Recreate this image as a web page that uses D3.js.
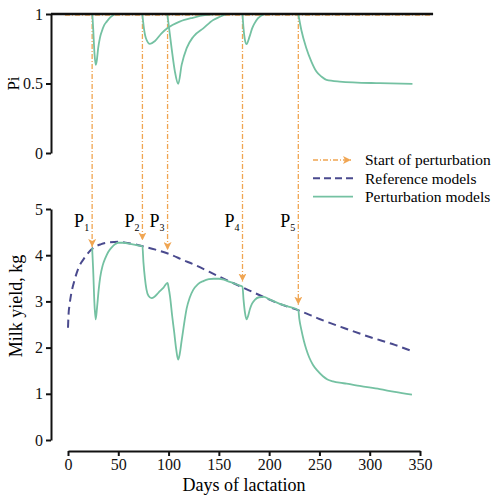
<!DOCTYPE html>
<html>
<head>
<meta charset="utf-8">
<script src="https://cdn.jsdelivr.net/npm/d3@7"></script>
<style>
  body { margin: 0; background: #fff; }
  svg { display: block; }
  text { font-family: "Liberation Serif", "DejaVu Serif", serif; }
</style>
</head>
<body>
<div id="chart"></div>
<script>
// perturbation start days and their labels
let starts = [24, 74, 99, 173.5, 229];
let startLabels = ['1', '2', '3', '4', '5'];
// milk yield where each arrow ends
let arrowTip = [4.18, 4.32, 4.11, 3.43, 2.93];

// reference lactation curve
let refDays = [0, 0.5, 1.5, 3, 6, 10, 17, 24, 33, 42, 50, 63, 75, 87, 100, 115, 125, 150, 173, 194, 210, 230, 250, 275, 300, 325, 340];
let refYield = [2.43, 2.7, 2.92, 3.14, 3.42, 3.70, 3.96, 4.14, 4.24, 4.28, 4.29, 4.25, 4.19, 4.12, 4.03, 3.89, 3.80, 3.54, 3.31, 3.10, 2.95, 2.80, 2.62, 2.42, 2.23, 2.06, 1.94];

// perturbed curve
let pertDays = [24, 25, 26.3, 27.5, 28.8, 30.5, 32, 34.5, 37, 40, 43.5, 47, 50, 55, 63, 70, 74,
  75, 76.5, 78, 80, 83, 86, 90, 95, 99,
  100, 101.5, 103.5, 105.5, 107.5, 109.5, 111, 113, 115, 118, 121, 124.5, 129, 134.5, 140, 145, 150, 155, 160, 165, 170, 173.5,
  174.5, 176, 177.5, 179, 181, 183, 186, 190, 195, 200, 210, 220, 229,
  230, 232, 234.5, 237, 240, 243.5, 248, 253.5, 258, 263.5, 270, 277, 290, 310, 325, 342];
let pertYield = [4.16, 3.70, 2.95, 2.61, 2.85, 3.25, 3.52, 3.78, 3.93, 4.07, 4.17, 4.24, 4.27, 4.27, 4.24, 4.21, 4.19,
  3.85, 3.50, 3.26, 3.12, 3.07, 3.10, 3.19, 3.30, 3.40,
  3.30, 3.10, 2.70, 2.35, 1.98, 1.74, 1.85, 2.15, 2.45, 2.85, 3.08, 3.25, 3.37, 3.44, 3.48, 3.49, 3.49, 3.47, 3.43, 3.39, 3.35, 3.32,
  3.05, 2.75, 2.61, 2.68, 2.84, 2.95, 3.04, 3.09, 3.10, 3.05, 2.95, 2.88, 2.81,
  2.62, 2.39, 2.15, 1.96, 1.78, 1.63, 1.50, 1.38, 1.31, 1.27, 1.24, 1.22, 1.17, 1.10, 1.04, 0.98];

// Pi of each perturbation: [day, value]
let pi1 = [[24.2, 1], [25, 0.9], [26.3, 0.72], [27.5, 0.634], [28.5, 0.66], [30, 0.754], [31.8, 0.83], [33.5, 0.873], [36, 0.92], [38.5, 0.945], [42, 0.975], [46.7, 1]];
let pi2 = [[73.9, 1], [75.5, 0.897], [77.5, 0.826], [81.5, 0.785], [86.5, 0.806], [93, 0.861], [98.7, 0.897], [111, 0.945], [124, 0.973], [137.5, 0.993], [147, 1]];
let pi3 = [[98.7, 1], [99.7, 0.945], [103, 0.754], [106.3, 0.586], [109.6, 0.497], [113, 0.634], [118, 0.754], [124.6, 0.837], [134.5, 0.897], [144.4, 0.957], [151, 0.98], [158, 1]];
let pi4 = [[173.5, 1], [174.5, 0.9], [176, 0.81], [177.5, 0.783], [180.5, 0.837], [183, 0.895], [185.5, 0.933], [189, 0.97], [195.8, 1]];
let pi5 = [[229, 1], [232, 0.885], [237, 0.754], [242, 0.658], [247, 0.586], [252, 0.55], [257, 0.526], [270, 0.514], [310, 0.502], [342.5, 0.497]];

let xTicks = [0, 50, 100, 150, 200, 250, 300, 350];
let piTicks = [0, 0.5, 1];
let yieldTicks = [0, 1, 2, 3, 4, 5];

let legendNames = ['Start of perturbation', 'Reference models', 'Perturbation models'];

let width = 493,
  height = 496;

const orange = '#f0a552',
  navy = '#4a4a8e',
  green = '#74c1a2';

const axisX = 51;
let x = d3.scaleLinear().domain([0, 350]).range([68, 420]);
let yTop = d3.scaleLinear().domain([0, 1]).range([153, 14]);
let yBot = d3.scaleLinear().domain([0, 5]).range([440, 209]);

function chart() {
  const svg = d3.select('#chart').append('svg')
    .attr('width', width)
    .attr('height', height);

  const defs = svg.append('defs');
  defs.append('marker')
    .attr('id', 'arrow')
    .attr('markerUnits', 'userSpaceOnUse')
    .attr('viewBox', '0 0 8 8')
    .attr('refX', 8).attr('refY', 4)
    .attr('markerWidth', 8).attr('markerHeight', 8)
    .attr('orient', 'auto')
    .append('path')
      .attr('d', 'M0,0L8,4L0,8L2,4Z')
      .attr('fill', orange);

  // faint orange line along Pi = 1
  svg.append('line')
    .attr('x1', x(-3)).attr('x2', x(360))
    .attr('y1', yTop(1) + 1).attr('y2', yTop(1) + 1)
    .attr('stroke', orange)
    .attr('stroke-width', 1.3)
    .attr('stroke-dasharray', '5,2,1,2');

  // start of perturbation arrows
  svg.selectAll('.start')
    .data(starts)
    .enter().append('line')
      .attr('class', 'start')
      .attr('x1', d => x(d)).attr('x2', d => x(d))
      .attr('y1', yTop(1))
      .attr('y2', (d, i) => yBot(arrowTip[i]))
      .attr('stroke', orange)
      .attr('stroke-width', 1.3)
      .attr('stroke-dasharray', '5,2,1,2')
      .attr('marker-end', 'url(#arrow)');

  // P labels
  const pl = svg.selectAll('.plabel')
    .data(starts)
    .enter().append('text')
      .attr('class', 'plabel')
      .attr('x', d => x(d) - 3)
      .attr('y', yBot(4.61))
      .attr('text-anchor', 'end')
      .style('font-size', '18px');
  pl.append('tspan').text('P');
  pl.append('tspan')
    .attr('dy', 4)
    .style('font-size', '10px')
    .text((d, i) => startLabels[i]);

  // Pi curves
  const piLine = d3.line()
    .x(d => x(d[0]))
    .y(d => yTop(d[1]))
    .curve(d3.curveMonotoneX);

  svg.selectAll('.pi')
    .data([pi1, pi2, pi3, pi4, pi5])
    .enter().append('path')
      .attr('class', 'pi')
      .attr('d', piLine)
      .attr('fill', 'none')
      .attr('stroke', green)
      .attr('stroke-width', 1.8);

  // Pi = 1 line
  svg.append('line')
    .attr('x1', axisX).attr('x2', x(363))
    .attr('y1', yTop(1)).attr('y2', yTop(1))
    .attr('stroke', '#111')
    .attr('stroke-width', 2.4);

  // milk yield curves
  const yLine = d3.line()
    .x(d => x(d[0]))
    .y(d => yBot(d[1]))
    .curve(d3.curveMonotoneX);

  svg.append('path')
    .datum(refDays.map((d, i) => [d, refYield[i]]))
    .attr('d', yLine)
    .attr('fill', 'none')
    .attr('stroke', navy)
    .attr('stroke-width', 2)
    .attr('stroke-dasharray', '8,5');

  svg.append('path')
    .datum(pertDays.map((d, i) => [d, pertYield[i]]))
    .attr('d', yLine)
    .attr('fill', 'none')
    .attr('stroke', green)
    .attr('stroke-width', 1.8);

  // axes
  const styleAxis = g => {
    g.attr('font-family', null);
    g.selectAll('.domain').attr('stroke', '#111').attr('stroke-width', 2);
    g.selectAll('.tick line').attr('stroke', '#111').attr('stroke-width', 2);
    g.selectAll('.tick text')
      .attr('fill', '#111')
      .style('font-size', '16px');
  };

  svg.append('g')
    .attr('transform', `translate(${axisX},0)`)
    .call(d3.axisLeft(yTop).tickValues(piTicks).tickFormat(d3.format('~g')).tickSize(5).tickSizeOuter(0))
    .call(styleAxis);

  svg.append('g')
    .attr('transform', `translate(${axisX},0)`)
    .call(d3.axisLeft(yBot).tickValues(yieldTicks).tickFormat(d3.format('~g')).tickSize(5).tickSizeOuter(0))
    .call(styleAxis);

  svg.append('g')
    .attr('transform', `translate(0,451)`)
    .call(d3.axisBottom(x).tickValues(xTicks).tickFormat(d3.format('~g')).tickSize(5).tickSizeOuter(0))
    .call(styleAxis);

  // axis titles
  svg.append('text')
    .attr('x', x(175))
    .attr('y', 491)
    .attr('text-anchor', 'middle')
    .style('font-size', '18px')
    .text('Days of lactation');

  svg.append('text')
    .attr('transform', `translate(22,${yBot(2.9)}) rotate(-90)`)
    .attr('text-anchor', 'middle')
    .style('font-size', '18px')
    .text('Milk yield, kg');

  svg.append('text')
    .attr('transform', `translate(19,${yTop(0.5)}) rotate(-90)`)
    .attr('text-anchor', 'middle')
    .style('font-size', '17px')
    .text('Pi');

  // legend
  const legend = svg.append('g')
    .attr('transform', 'translate(313,160)');

  const rows = legend.selectAll('g')
    .data(legendNames)
    .enter().append('g')
      .attr('transform', (d, i) => `translate(0,${i * 18.3})`);

  rows.append('line')
    .attr('x1', 0)
    .attr('x2', (d, i) => i === 0 ? 38 : 40)
    .attr('stroke', (d, i) => [orange, navy, green][i])
    .attr('stroke-width', (d, i) => [1.3, 2, 1.8][i])
    .attr('stroke-dasharray', (d, i) => ['5,2,1,2', '7,4', null][i])
    .attr('marker-end', (d, i) => i === 0 ? 'url(#arrow)' : null);

  rows.append('text')
    .attr('x', 52)
    .attr('dy', '0.35em')
    .style('font-size', '15.5px')
    .text(d => d);

  return svg.node();
}

chart();
</script>
</body>
</html>
